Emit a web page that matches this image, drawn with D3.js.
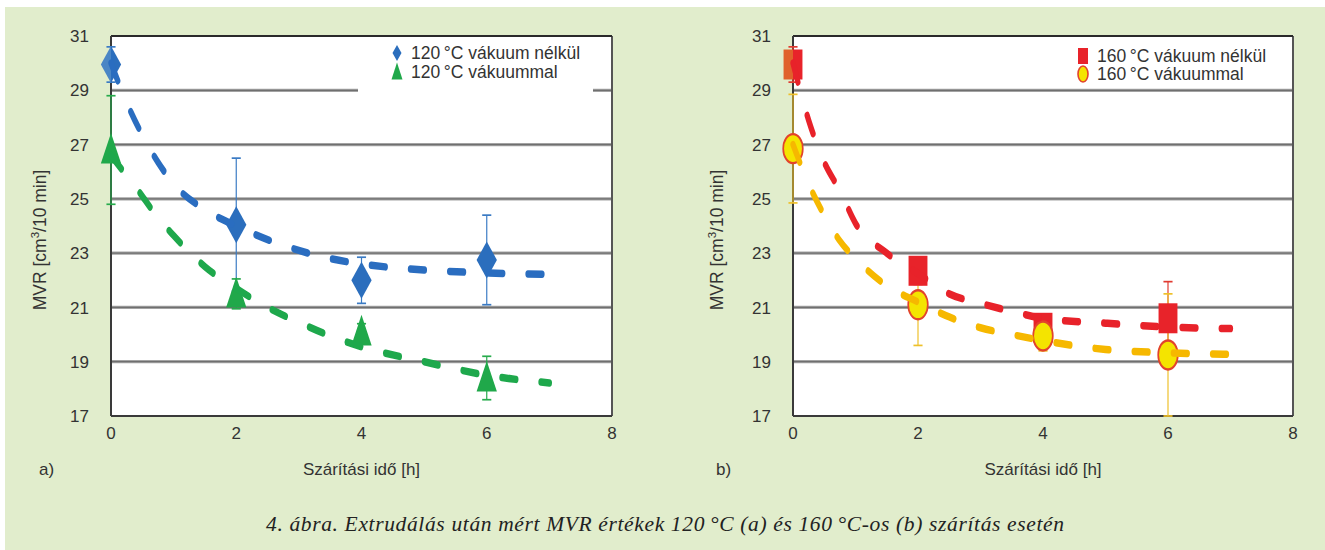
<!DOCTYPE html>
<html>
<head>
<meta charset="utf-8">
<script src="https://cdn.jsdelivr.net/npm/d3@7"></script>
<style>
  body { margin: 0; background: #fff; }
  svg { display: block; font-family: "Liberation Sans", Arial, sans-serif; }
</style>
</head>
<body>
<svg id="fig" width="1325" height="550"></svg>
<script>
// drying times of the measured samples [h]
var times = [0, 2, 4, 6];
var xTicks = [0, 2, 4, 6, 8];
var yTicks = [17, 19, 21, 23, 25, 27, 29, 31];

// a) 120 °C
var mvr120 = [29.95, 24.05, 22.0, 22.75];
var err120 = [0.65, 2.45, 0.85, 1.65];
var mvr120vac = [26.8, 21.5, 20.1, 18.4];
var err120vac = [2.0, 0.55, 0.3, 0.8];

// b) 160 °C
var mvr160 = [29.95, 22.35, 20.25, 20.6];
var err160 = [0.65, 0.5, 0.4, 1.35];
var mvr160vac = [26.85, 21.1, 19.95, 19.25];
var err160vac = [2.0, 1.5, 0.55, 2.25];

// dashed trend lines
var fitTimes = [0, 0.25, 0.5, 0.75, 1, 1.5, 2, 2.5, 3, 3.5, 4, 5, 6, 7];
var fit120 = [30.0, 28.55, 27.35, 26.35, 25.55, 24.6, 24.0, 23.5, 23.1, 22.8, 22.6, 22.38, 22.27, 22.22];
var fit120vac = [26.6, 25.85, 25.1, 24.3, 23.65, 22.5, 21.7, 21.0, 20.45, 19.95, 19.55, 19.0, 18.5, 18.22];
var fit160 = [30.0, 27.9, 26.35, 25.3, 24.1, 23.0, 22.25, 21.5, 21.15, 20.85, 20.6, 20.42, 20.28, 20.22];
var fit160vac = [27.0, 25.55, 24.4, 23.45, 22.8, 21.8, 21.2, 20.65, 20.25, 20.0, 19.78, 19.45, 19.33, 19.27];

var svg = d3.select('#fig');
var defs = svg.append('defs');

// green page background
svg.append('rect').attr('x', 5).attr('y', 7).attr('width', 1320).attr('height', 543)
  .attr('fill', '#e1edcc');

var plotTop = 36, plotBottom = 416;
var squeeze = 0.7; // the original plot is drawn horizontally compressed

function halfGrad(id, left, right) {
  var g = defs.append('linearGradient').attr('id', id);
  g.append('stop').attr('offset', '50%').attr('stop-color', left);
  g.append('stop').attr('offset', '50%').attr('stop-color', right);
}
halfGrad('gBlue', '#4a86c5', '#2b6ebd');
halfGrad('gRed', '#e0612c', '#e8232a');

var panels = [
  {
    left: 111, right: 612, tag: 'a)', tagX: 39, titleOff: 71, legendBox: true,
    legendX: 397, legendY: [53, 72],
    series: [
      {name: '120\u2009°C vákuum nélkül', y: mvr120, err: err120, fit: fit120, shape: 'diamond',
       color: '#2b6ebd', errColor: '#3b7bc4', lineColor: '#2a6dc0', first: 'url(#gBlue)'},
      {name: '120\u2009°C vákuummal', y: mvr120vac, err: err120vac, fit: fit120vac, shape: 'triangle',
       color: '#20a84a', errColor: '#27ab4c', lineColor: '#1ea84c'}
    ]
  },
  {
    left: 793, right: 1293, tag: 'b)', tagX: 716, titleOff: 76, legendBox: false,
    legendX: 1083, legendY: [56, 74],
    series: [
      {name: '160\u2009°C vákuum nélkül', y: mvr160, err: err160, fit: fit160, shape: 'square',
       color: '#e8232a', errColor: '#e03a30', lineColor: '#e8222a', first: 'url(#gRed)'},
      {name: '160\u2009°C vákuummal', y: mvr160vac, err: err160vac, fit: fit160vac, shape: 'circle',
       color: '#f4e400', stroke: '#e2432c', errColor: '#eec02a', lineColor: '#f6b800'}
    ]
  }
];

function drawShape(sel, shape, w, h) {
  if (shape === 'diamond') {
    sel.append('path').attr('d', 'M0,' + (-h) + 'L' + w + ',0L0,' + h + 'L' + (-w) + ',0Z');
  } else if (shape === 'triangle') {
    sel.append('path').attr('d', 'M0,' + (-h) + 'L' + w + ',' + (h * 0.8) + 'L' + (-w) + ',' + (h * 0.8) + 'Z');
  } else if (shape === 'square') {
    sel.append('rect').attr('x', -w).attr('y', -h).attr('width', 2 * w).attr('height', 2 * h);
  } else {
    sel.append('ellipse').attr('rx', w).attr('ry', h);
  }
}

panels.forEach(function(p) {
  var width = p.right - p.left, height = plotBottom - plotTop;
  var g = svg.append('g').attr('transform', 'translate(' + p.left + ',' + plotTop + ')');

  var x = d3.scaleLinear().domain([0, 8]).range([0, width]);
  var xs = d3.scaleLinear().domain([0, 8]).range([0, width / squeeze]);
  var y = d3.scaleLinear().domain([17, 31]).range([height, 0]);

  g.append('rect').attr('width', width).attr('height', height).attr('fill', '#fff');

  // horizontal grid
  var grid = g.selectAll('.grid').data(yTicks.slice(1, -1)).enter().append('g');
  grid.append('line').attr('x1', 0).attr('x2', width)
    .attr('y1', function(d) { return y(d); }).attr('y2', function(d) { return y(d); })
    .attr('stroke', '#a3a3a3').attr('stroke-width', 3.2);
  grid.append('line').attr('x1', 0).attr('x2', width)
    .attr('y1', function(d) { return y(d); }).attr('y2', function(d) { return y(d); })
    .attr('stroke', '#6f6f6f').attr('stroke-width', 1.3);

  // frame
  g.append('line').attr('x1', width).attr('x2', width).attr('y1', 0).attr('y2', height)
    .attr('stroke', '#555').attr('stroke-width', 2);
  g.append('line').attr('x1', 0).attr('x2', width).attr('y1', 0).attr('y2', 0)
    .attr('stroke', '#2a2a2a').attr('stroke-width', 2);
  g.append('line').attr('x1', 0).attr('x2', width).attr('y1', height).attr('y2', height)
    .attr('stroke', '#3a3a3a').attr('stroke-width', 2);
  g.append('line').attr('x1', 0).attr('x2', 0).attr('y1', 0).attr('y2', height)
    .attr('stroke', '#3a3a3a').attr('stroke-width', 2);

  if (p.legendBox) {
    g.append('rect').attr('x', 358 - p.left).attr('y', 44 - plotTop)
      .attr('width', 235).attr('height', 52).attr('fill', '#fff');
  }

  // tick labels
  g.selectAll('.yt').data(yTicks).enter().append('text')
    .attr('x', -22).attr('y', function(d) { return y(d); }).attr('dy', '0.36em')
    .attr('text-anchor', 'end').attr('font-size', 17).attr('fill', '#333')
    .text(function(d) { return d; });
  g.selectAll('.xt').data(xTicks).enter().append('text')
    .attr('x', function(d) { return x(d); }).attr('y', height + 23)
    .attr('text-anchor', 'middle').attr('font-size', 17).attr('fill', '#333')
    .text(function(d) { return d; });

  // axis titles
  var yt = g.append('text')
    .attr('transform', 'translate(' + (-p.titleOff) + ',' + (240 - plotTop) + ') rotate(-90)')
    .attr('text-anchor', 'middle').attr('dy', '0.36em').attr('font-size', 17.5).attr('fill', '#333');
  yt.append('tspan').text('MVR [cm');
  yt.append('tspan').attr('font-size', 11.5).attr('dy', '-0.6em').text('3');
  yt.append('tspan').attr('dy', '0.38em').text('/10 min]');
  g.append('text').attr('x', width / 2).attr('y', 475 - plotTop)
    .attr('text-anchor', 'middle').attr('font-size', 17).attr('fill', '#333')
    .text('Szárítási idő [h]');
  g.append('text').attr('x', p.tagX - p.left).attr('y', 475 - plotTop)
    .attr('font-size', 17).attr('fill', '#333').text(p.tag);

  // plot content in the compressed frame
  var pg = g.append('g').attr('transform', 'scale(' + squeeze + ',1)');

  var line = d3.line()
    .x(function(d) { return xs(d[0]); })
    .y(function(d) { return y(d[1]); })
    .curve(d3.curveMonotoneX);

  p.series.forEach(function(s) {
    var pts = times.map(function(t, i) { return {t: t, v: s.y[i], e: s.err[i], i: i}; });
    var eb = pg.append('g').attr('stroke', s.errColor).attr('stroke-width', 1.7).attr('fill', 'none');
    eb.selectAll('.v').data(pts).enter().append('line')
      .attr('x1', function(d) { return xs(d.t); }).attr('x2', function(d) { return xs(d.t); })
      .attr('y1', function(d) { return y(d.v - d.e); }).attr('y2', function(d) { return y(d.v + d.e); });
    eb.selectAll('.c1').data(pts).enter().append('line')
      .attr('x1', function(d) { return xs(d.t) - 6.5; }).attr('x2', function(d) { return xs(d.t) + 6.5; })
      .attr('y1', function(d) { return y(d.v + d.e); }).attr('y2', function(d) { return y(d.v + d.e); });
    eb.selectAll('.c2').data(pts).enter().append('line')
      .attr('x1', function(d) { return xs(d.t) - 6.5; }).attr('x2', function(d) { return xs(d.t) + 6.5; })
      .attr('y1', function(d) { return y(d.v - d.e); }).attr('y2', function(d) { return y(d.v - d.e); });
  });

  p.series.forEach(function(s) {
    var pts = times.map(function(t, i) { return {t: t, v: s.y[i], i: i}; });
    pts.forEach(function(d) {
      var m = pg.append('g').attr('transform', 'translate(' + xs(d.t) + ',' + y(d.v) + ')')
        .attr('fill', (d.i === 0 && s.first) ? s.first : s.color);
      if (s.stroke) m.attr('stroke', s.stroke).attr('stroke-width', 2.4);
      if (s.shape === 'diamond') drawShape(m, 'diamond', 14.5, 18.5);
      else if (s.shape === 'triangle') drawShape(m, 'triangle', 14.5, 17);
      else if (s.shape === 'square') drawShape(m, 'square', 13.5, 15);
      else drawShape(m, 'circle', 14, 14.5);
    });
  });

  p.series.forEach(function(s) {
    pg.append('path')
      .datum(fitTimes.map(function(t, i) { return [t, s.fit[i]]; }))
      .attr('d', line)
      .attr('fill', 'none').attr('stroke', s.lineColor).attr('stroke-width', 7.5)
      .attr('stroke-linecap', 'round').attr('stroke-dasharray', '20,36');
  });

  // legend
  p.series.forEach(function(s, k) {
    var ly = p.legendY[k] - plotTop;
    var m = g.append('g').attr('transform', 'translate(' + (p.legendX - p.left) + ',' + ly + ')')
      .attr('fill', s.color);
    if (s.stroke) m.attr('stroke', s.stroke).attr('stroke-width', 1.6);
    if (s.shape === 'diamond') drawShape(m, 'diamond', 4.5, 8);
    else if (s.shape === 'triangle') drawShape(m, 'triangle', 5.5, 9.5);
    else if (s.shape === 'square') drawShape(m, 'square', 5, 8);
    else drawShape(m, 'circle', 5, 8);
    g.append('text').attr('x', p.legendX - p.left + 14).attr('y', ly).attr('dy', '0.36em')
      .attr('font-size', 17.5).attr('fill', '#333').text(s.name);
  });
});

// figure caption
svg.append('text').attr('x', 665).attr('y', 531).attr('text-anchor', 'middle')
  .attr('font-family', '"Liberation Serif", "DejaVu Serif", serif').attr('font-style', 'italic')
  .attr('font-size', 21.5).attr('fill', '#222')
  .attr('textLength', 798).attr('lengthAdjust', 'spacing')
  .text('4. ábra. Extrudálás után mért MVR értékek 120\u2009°C (a) és 160\u2009°C-os (b) szárítás esetén');
</script>
</body>
</html>
